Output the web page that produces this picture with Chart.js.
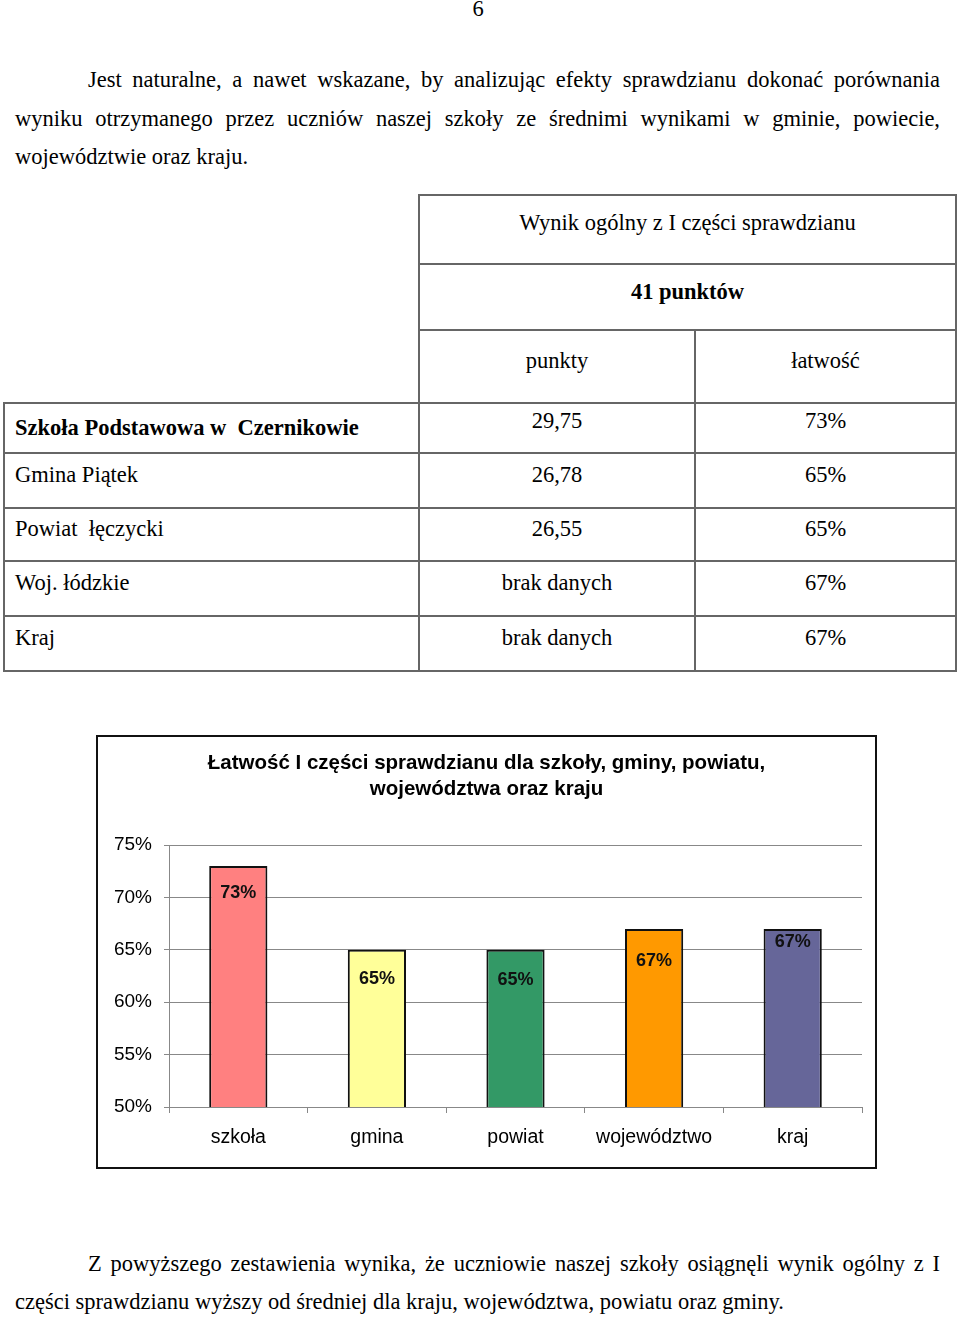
<!DOCTYPE html>
<html lang="pl">
<head>
  <meta charset="UTF-8">
  <title>Łatwość I części sprawdzianu</title>
  <script src="https://cdn.jsdelivr.net/npm/chart.js"></script>
  <style>
    body { margin: 0; background: #fff; width: 960px; height: 1317px; position: relative; overflow: hidden;
           font-family: "Liberation Serif", "Times New Roman", serif; font-size: 22.5px; color: #000; }
    .ln { position: absolute; line-height: 26px; white-space: pre; }
    .just { text-align: justify; text-align-last: justify; white-space: normal; }
    .hl { position: absolute; height: 2px; background: #666; }
    .vl { position: absolute; width: 2px; background: #666; }
    .c { text-align: center; }
    #chartBox { position: absolute; left: 96px; top: 735px; width: 781px; height: 434px;
                border: 2px solid #111; box-sizing: border-box; background: #fff; }
    #chartWrap { position: relative; width: 777px; height: 430px; }
  </style>
</head>
<body>
  <div class="ln c" style="left:0;width:956px;top:-4px;">6</div>

  <div class="ln just" style="left:88px;width:852px;top:67px;">Jest naturalne, a nawet wskazane, by analizując efekty sprawdzianu dokonać porównania</div>
  <div class="ln just" style="left:15px;width:925px;top:106px;">wyniku otrzymanego przez uczniów naszej szkoły ze średnimi wynikami w gminie, powiecie,</div>
  <div class="ln" style="left:15px;top:144px;">województwie oraz kraju.</div>

  <div id="table"></div>

  <div id="chartBox"><div id="chartWrap"><canvas id="chart"></canvas></div></div>

  <div class="ln just" style="left:88px;width:852px;top:1251px;">Z powyższego zestawienia wynika, że uczniowie naszej szkoły osiągnęli wynik ogólny z I</div>
  <div class="ln" style="left:15px;top:1289px;">części sprawdzianu wyższy od średniej dla kraju, województwa, powiatu oraz gminy.</div>

  <script>
    // dane tabeli
    const tableTitle = 'Wynik ogólny z I części sprawdzianu';
    const maxPoints = '41 punktów';
    const colHeads = ['punkty', 'łatwość'];
    const rowNames = ['Szkoła Podstawowa w  Czernikowie', 'Gmina Piątek', 'Powiat  łęczycki', 'Woj. łódzkie', 'Kraj'];
    const rowPoints = ['29,75', '26,78', '26,55', 'brak danych', 'brak danych'];
    const rowEase = ['73%', '65%', '65%', '67%', '67%'];

    // dane wykresu
    const categories = ['szkoła', 'gmina', 'powiat', 'województwo', 'kraj'];
    const easeValues = [73, 65, 65, 67, 67];
    const barColors = ['#FF8080', '#FFFF99', '#339966', '#FF9900', '#666699'];
    const yMin = 50, yMax = 75, yStep = 5;

    // rysowanie tabeli
    function buildTable() {
      const t = document.getElementById('table');
      let html = '';
      const hl = (x1, x2, y) => html += `<div class="hl" style="left:${x1 - 1}px;width:${x2 - x1 + 2}px;top:${y - 1}px"></div>`;
      const vl = (x, y1, y2) => html += `<div class="vl" style="left:${x - 1}px;top:${y1 - 1}px;height:${y2 - y1 + 2}px"></div>`;
      const txt = (s, x, w, yc, extra) => html += `<div class="ln${w ? ' c' : ''}" style="left:${x}px;${w ? 'width:' + w + 'px;' : ''}top:${yc - 13}px;${extra || ''}">${s}</div>`;

      const rowY = [403, 453, 508, 561, 616, 671];
      hl(419, 956, 195); hl(419, 956, 264); hl(419, 956, 330);
      rowY.forEach(y => hl(4, 956, y));
      vl(419, 195, 671); vl(956, 195, 671); vl(4, 403, 671); vl(695, 330, 671);

      txt(tableTitle, 419, 537, 223);
      txt(maxPoints, 419, 537, 292, 'font-weight:bold');
      txt(colHeads[0], 419, 276, 361);
      txt(colHeads[1], 695, 261, 361);
      rowNames.forEach((n, i) => {
        const top = rowY[i], mid = (rowY[i] + rowY[i + 1]) / 2;
        txt(n, 15, 0, i === 0 ? top + 25 : mid - 6, i === 0 ? 'font-weight:bold' : '');
        txt(rowPoints[i], 419, 276, i === 0 ? top + 18 : mid - 6);
        txt(rowEase[i], 695, 261, i === 0 ? top + 18 : mid - 6);
      });
      t.innerHTML = html;
    }
    buildTable();

    // etykiety wartości wewnątrz słupków
    const valueLabels = {
      id: 'valueLabels',
      afterDatasetsDraw(chart, args, opts) {
        const ctx = chart.ctx;
        const meta = chart.getDatasetMeta(0);
        ctx.save();
        ctx.font = 'bold 18px "Liberation Sans", Arial, sans-serif';
        ctx.fillStyle = '#111';
        ctx.textAlign = 'center';
        ctx.textBaseline = 'middle';
        meta.data.forEach((bar, i) => {
          ctx.fillText(chart.data.datasets[0].data[i] + '%', bar.x, bar.y + opts.offsets[i]);
        });
        ctx.restore();
      }
    };

    const sans = '"Liberation Sans", Arial, sans-serif';

    new Chart(document.getElementById('chart'), {
      type: 'bar',
      data: {
        labels: categories,
        datasets: [{
          data: easeValues,
          backgroundColor: barColors,
          borderColor: '#111',
          borderWidth: 2,
          barPercentage: 0.42,
          categoryPercentage: 1
        }]
      },
      options: {
        responsive: true,
        maintainAspectRatio: false,
        animation: false,
        layout: { padding: { left: 13, right: 13, top: 0, bottom: 0 } },
        scales: {
          x: {
            grid: { offset: true, drawOnChartArea: false, tickLength: 6, color: '#888' },
            border: { color: '#888' },
            ticks: { font: { family: sans, size: 19.5 }, color: '#000', padding: 13, maxRotation: 0 },
            afterFit(scale) { scale.height = 60; }
          },
          y: {
            min: yMin, max: yMax,
            grid: { color: '#888', tickLength: 5 },
            border: { color: '#888' },
            ticks: { stepSize: yStep, font: { family: sans, size: 19 }, color: '#000', padding: 12, callback: v => v + '%' },
            afterFit(scale) { scale.width = 58; }
          }
        },
        plugins: {
          legend: { display: false },
          tooltip: { enabled: false },
          title: {
            display: true,
            text: ['Łatwość I części sprawdzianu dla szkoły, gminy, powiatu,', 'województwa oraz kraju'],
            color: '#000',
            font: { family: sans, size: 20.5, weight: 'bold', lineHeight: 1.27 },
            padding: { top: 13, bottom: 43 }
          },
          valueLabels: { offsets: [27, 29, 30, 32, 13] }
        }
      },
      plugins: [valueLabels]
    });
  </script>
</body>
</html>
